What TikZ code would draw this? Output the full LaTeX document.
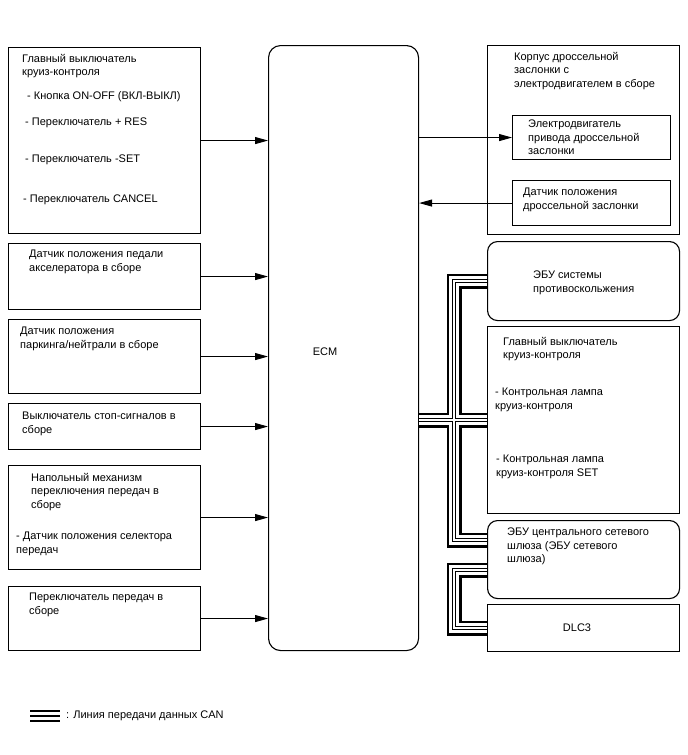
\documentclass[tikz,border=0pt]{standalone}
\usepackage{fontspec}
\setmainfont{Liberation Sans}
\usetikzlibrary{arrows.meta,calc}

\begin{document}
\begin{tikzpicture}[x=1pt, y=-1pt, >={Triangle[length=13pt,width=7pt]},
  font=\fontsize{11}{13.5}\selectfont,
  box/.style={draw, line width=1.1pt, anchor=north west, inner sep=0pt},
  rbox/.style={box, rounded corners=10pt},
  txt/.style={anchor=north west, inner sep=0pt, align=left},
  sig/.style={->, line width=0.9pt},
  can/.style={line width=15pt,
    postaction={draw=white, line width=9.5pt},
    postaction={draw=black, line width=4.2pt},
    postaction={draw=white, line width=1.3pt}}]
  \useasboundingbox (0,0) rectangle (688,755);

  % inputs on the left
  \node[box, minimum width=192pt, minimum height=186pt] (sw1) at (8,47) {};
  \node[box, minimum width=192pt, minimum height=66pt] (accel) at (8,243) {};
  \node[box, minimum width=192pt, minimum height=74pt] (park) at (8,319) {};
  \node[box, minimum width=192pt, minimum height=46pt] (stop) at (8,403) {};
  \node[box, minimum width=192pt, minimum height=104pt] (floor) at (8,465) {};
  \node[box, minimum width=192pt, minimum height=64pt] (shift) at (8,586) {};

  \node[txt] (sw1a) at (22,54) {Главный выключатель\\круиз-контроля};
  \node[txt] (sw1b) at (27,91) {- Кнопка ON-OFF (ВКЛ-ВЫКЛ)};
  \node[txt] (sw1c) at (25,118) {- Переключатель + RES};
  \node[txt] (sw1d) at (25,155) {- Переключатель -SET};
  \node[txt] (sw1e) at (23,195) {- Переключатель CANCEL};
  \node[txt] (accelt) at (29,250) {Датчик положения педали\\акселератора в сборе};
  \node[txt] (parkt) at (20,327) {Датчик положения\\паркинга/нейтрали в сборе};
  \node[txt] (stopt) at (22,412) {Выключатель стоп-сигналов в\\сборе};
  \node[txt] (floora) at (31,473) {Напольный механизм\\переключения передач в\\сборе};
  \node[txt] (floorb) at (16,532) {- Датчик положения селектора\\передач};
  \node[txt] (shiftt) at (29,593) {Переключатель передач в\\сборе};

  % ECM
  \node[rbox, rounded corners=12pt, minimum width=150pt, minimum height=605pt] (ecm) at (268,45) {};
  \node (ecmt) at (325,352) {ECM};

  % right side
  \node[box, minimum width=192pt, minimum height=189pt] (tb) at (487,45) {};
  \node[box, minimum width=158pt, minimum height=44pt] (motor) at (512,115) {};
  \node[box, minimum width=158pt, minimum height=45pt] (tps) at (512,180) {};
  \node[rbox, minimum width=192pt, minimum height=79pt] (abs) at (487,241) {};
  \node[box, minimum width=192pt, minimum height=187pt] (sw2) at (487,326) {};
  \node[rbox, minimum width=192pt, minimum height=78pt] (cgw) at (487,520) {};
  \node[box, minimum width=192pt, minimum height=47pt] (dlc) at (487,604) {};

  \node[txt] (tbt) at (514,52) {Корпус дроссельной\\заслонки с\\электродвигателем в сборе};
  \node[txt] (motort) at (528,120) {Электродвигатель\\привода дроссельной\\заслонки};
  \node[txt] (tpst) at (523,188) {Датчик положения\\дроссельной заслонки};
  \node[txt] (abst) at (533,271) {ЭБУ системы\\противоскольжения};
  \node[txt] (sw2a) at (503,337) {Главный выключатель\\круиз-контроля};
  \node[txt] (sw2b) at (495,388) {- Контрольная лампа\\круиз-контроля};
  \node[txt] (sw2c) at (496,455) {- Контрольная лампа\\круиз-контроля SET};
  \node[txt] (cgwt) at (507,528) {ЭБУ центрального сетевого\\шлюза (ЭБУ сетевого\\шлюза)};
  \node (dlct) at (577,628) {DLC3};

  % signal lines
  \foreach \n in {sw1,accel,park,stop,floor,shift}
    \draw[sig] (\n.east) -- (\n.east -| ecm.west);
  \draw[sig] (motor.west -| ecm.east) -- (motor.west);
  \draw[sig] (tps.west) -- (tps.west -| ecm.east);

  % CAN lines
  \coordinate (busx) at (454,0);
  \coordinate (c1) at ($(cgw.north west)+(0,20)$);
  \coordinate (c2) at ($(cgw.north west)+(0,50)$);
  \draw[can] (abs.west) -- (abs.west -| busx) -- (busx |- c1) -- (c1)
    (sw2.west -| ecm.east) -- (sw2.west);
  \draw[can] (c2) -- (c2 -| busx) -- (busx |- dlc.west) -- (dlc.west);

  % legend
  \node[anchor=west, inner sep=0pt] (leg) at (66,716) {: Линия передачи данных CAN};
  \foreach \dy in {-5,0,5}
    \draw[line width=2.8pt] ($(leg.west)+(-36,\dy)$) -- ($(leg.west)+(-6,\dy)$);
\end{tikzpicture}
\end{document}
